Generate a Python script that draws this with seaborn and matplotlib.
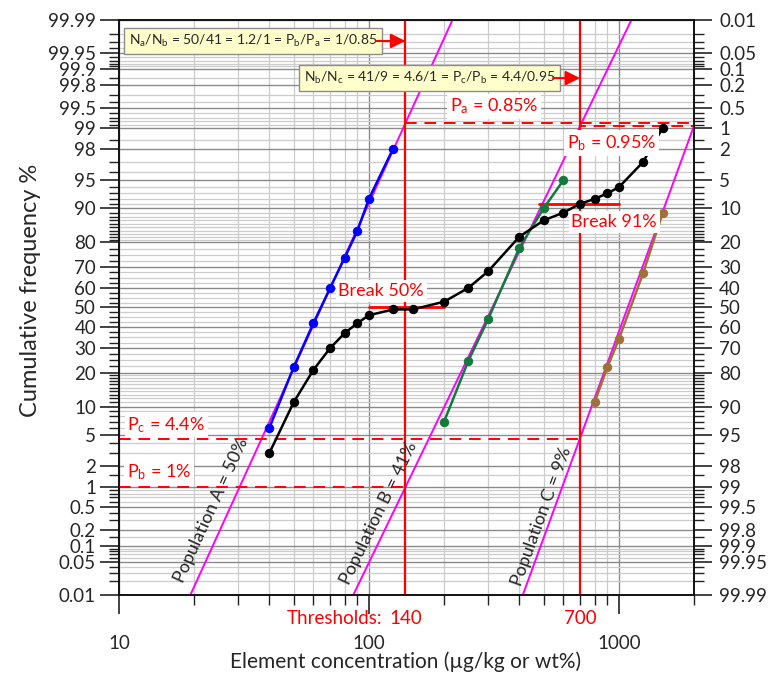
import math
import numpy as np
import pandas as pd
import matplotlib
matplotlib.use("Agg")
import matplotlib.pyplot as plt
import seaborn as sns

# ---------------- data ----------------
mixed_x = [40, 50, 60, 70, 80, 90, 100, 125, 150, 200, 250, 300, 400, 500, 600,
           700, 800, 900, 1000, 1250, 1500]
mixed_p = [3, 11, 21, 30, 37, 42, 46, 49, 49, 53, 60, 68, 82, 87, 89,
           91, 92, 93, 94, 97, 99]
popA_x = [40, 50, 60, 70, 80, 90, 100, 125]
popA_p = [6, 22, 42, 60, 74, 84, 92, 98]
popB_x = [200, 250, 300, 400, 500, 600]
popB_p = [7, 24.5, 44, 78, 90, 95]
popC_x = [800, 900, 1000, 1250, 1500]
popC_p = [11, 22, 34, 67, 89]
fitA_x, fitA_p = [19.3, 216], [0.01, 99.99]
fitB_x, fitB_p = [86.6, 1123], [0.01, 99.99]
fitC_x, fitC_p = [413, 2000], [0.01, 99.06]
thresholds = [140, 700]
breaks_x = [[100, 200], [480, 1000]]
breaks_p = [50, 91]
Pa_pct, Pb_pct, Pc_pct, Pb1_pct = 0.85, 0.95, 4.4, 1.0
y_major = [0.01, 0.05, 0.1, 0.2, 0.5, 1, 2, 5, 10, 20, 30, 40, 50, 60, 70, 80,
           90, 95, 98, 99, 99.5, 99.8, 99.9, 99.95, 99.99]
y_minor_low = [0.02, 0.03, 0.04, 0.06, 0.07, 0.08, 0.09, 0.15, 0.3, 0.4, 0.6, 0.7,
               0.8, 0.9, 1.5, 3, 4, 6, 7, 8, 9, 11, 12, 13, 14, 15, 16, 17, 18, 19,
               22.5, 25, 27.5, 32.5, 35, 37.5, 42.5, 45, 47.5]
x_major = [10, 100, 1000]
x_minor = [20, 30, 40, 50, 60, 70, 80, 90, 200, 300, 400, 500, 600, 700, 800, 900, 2000]

# ---------------- probability scale helpers ----------------
_a = [-3.969683028665376e+01, 2.209460984245205e+02, -2.759285104469687e+02,
      1.383577518672690e+02, -3.066479806614716e+01, 2.506628277459239e+00]
_b = [-5.447609879822406e+01, 1.615858368580409e+02, -1.556989798598866e+02,
      6.680131188771972e+01, -1.328068155288572e+01]
_c = [-7.784894002430293e-03, -3.223964580411365e-01, -2.400758277161838e+00,
      -2.549671010382184e+00, 4.374664141464968e+00, 2.938163982698783e+00]
_d = [7.784695709041462e-03, 3.224671290700398e-01, 2.445134137142996e+00,
      3.754408661907416e+00]


def _ppf(q):
    q = np.clip(np.asarray(q, dtype=float), 1e-12, 1 - 1e-12)
    out = np.empty_like(q)
    plow = 0.02425
    lo = q < plow
    hi = q > 1 - plow
    mid = ~(lo | hi)
    if np.any(lo):
        t = np.sqrt(-2 * np.log(q[lo]))
        out[lo] = (((((_c[0]*t+_c[1])*t+_c[2])*t+_c[3])*t+_c[4])*t+_c[5]) / \
                  ((((_d[0]*t+_d[1])*t+_d[2])*t+_d[3])*t+1)
    if np.any(hi):
        t = np.sqrt(-2 * np.log(1 - q[hi]))
        out[hi] = -(((((_c[0]*t+_c[1])*t+_c[2])*t+_c[3])*t+_c[4])*t+_c[5]) / \
                   ((((_d[0]*t+_d[1])*t+_d[2])*t+_d[3])*t+1)
    if np.any(mid):
        r = q[mid] - 0.5
        s = r * r
        out[mid] = (((((_a[0]*s+_a[1])*s+_a[2])*s+_a[3])*s+_a[4])*s+_a[5])*r / \
                   (((((_b[0]*s+_b[1])*s+_b[2])*s+_b[3])*s+_b[4])*s+1)
    return out


_erf = np.vectorize(math.erf, otypes=[float])


def fwd(y):
    return _ppf(np.asarray(y, dtype=float) / 100.0)


def inv(z):
    return 50.0 * (1.0 + _erf(np.asarray(z, dtype=float) / math.sqrt(2)))


def fmt(v):
    return f"{v:g}"


# ---------------- style ----------------
sns.set_style("ticks")
plt.rcParams["font.family"] = ["Lato", "DejaVu Sans"]
plt.rcParams["mathtext.fontset"] = "custom"
plt.rcParams["mathtext.rm"] = "Lato"
plt.rcParams["mathtext.it"] = "Lato:italic"
plt.rcParams["mathtext.bf"] = "Lato:bold"

RED = "#ff0000"
MAG = "#ff00ff"

fig = plt.figure(figsize=(7.68, 6.78), dpi=100)
ax = fig.add_axes([119/768, 1-595/678, 575/768, 575/678])

# population fit lines (magenta)
for fx, fp in [(fitA_x, fitA_p), (fitB_x, fitB_p), (fitC_x, fitC_p)]:
    sns.lineplot(x=fx, y=fp, ax=ax, color=MAG, lw=1.4, zorder=3)

# data series
series = [(popA_x, popA_p, "#0000ff"), (popB_x, popB_p, "#127a3c"),
          (popC_x, popC_p, "#a0703a"), (mixed_x, mixed_p, "#000000")]
for sx, sp, col in series:
    sns.lineplot(x=sx, y=sp, ax=ax, color=col, lw=1.8, marker="o", markersize=6,
                 markeredgecolor=col, markerfacecolor=col, zorder=5)

ax.set_xscale("log")
ax.set_yscale("function", functions=(fwd, inv))
ax.set_xlim(10, 2000)
ax.set_ylim(0.01, 99.99)

# thresholds & reference lines
for t in thresholds:
    ax.axvline(t, color=RED, lw=1.6, zorder=4)
ax.plot([thresholds[0], 2000], [100 - Pa_pct] * 2, color=RED, lw=1.4, ls=(0, (6, 4)), zorder=4)
ax.plot([thresholds[1], 2000], [100 - Pb_pct] * 2, color=RED, lw=1.4, ls=(3, (6, 4)), zorder=4)
ax.plot([10, thresholds[1]], [Pc_pct] * 2, color=RED, lw=1.4, ls=(0, (6, 4)), zorder=4)
ax.plot([10, thresholds[0]], [Pb1_pct] * 2, color=RED, lw=1.4, ls=(0, (6, 4)), zorder=4)
for bx, bp in zip(breaks_x, breaks_p):
    ax.plot(bx, [bp, bp], color=RED, lw=2, zorder=4)

# ticks & grid
ax.set_yticks(y_major)
ax.set_yticklabels([fmt(v) for v in y_major])
y_minor = y_minor_low + [100 - v for v in y_minor_low]
ax.set_yticks(sorted(y_minor), minor=True)
ax.set_yticklabels([], minor=True)
ax.set_xticks(x_major)
ax.set_xticklabels([fmt(v) for v in x_major])
ax.set_xticks(x_minor, minor=True)
ax.set_xticklabels([], minor=True)
ax.tick_params(axis="both", which="major", direction="out", length=13.5, width=1.2,
               labelsize=13.5, color="#222222")
ax.tick_params(axis="both", which="minor", direction="out", length=7.5, width=1.0,
               color="#222222")
ax.tick_params(axis="x", which="major", pad=15)
ax.tick_params(axis="y", which="major", pad=3)
ax.grid(which="major", color="#8a8a8a", lw=1.0)
ax.grid(which="minor", color="#cccccc", lw=0.9)
ax.set_axisbelow(True)
for s in ax.spines.values():
    s.set_color("#111111")
    s.set_linewidth(1.2)

# right axis (complement percentages)
ax2 = ax.twinx()
ax2.set_yscale("function", functions=(fwd, inv))
ax2.set_ylim(0.01, 99.99)
ax2.set_yticks([100 - v for v in y_major])
ax2.set_yticklabels([fmt(v) for v in y_major])
ax2.set_yticks(sorted(100 - v for v in y_minor), minor=True)
ax2.set_yticklabels([], minor=True)
ax2.tick_params(axis="y", which="major", direction="out", length=13, width=1.2,
                labelsize=13.5, pad=5, color="#222222")
ax2.tick_params(axis="y", which="minor", direction="out", length=7, width=1.0,
                color="#222222")
for s in ax2.spines.values():
    s.set_linewidth(1.2)
    s.set_color("#111111")

# axis labels
ax.set_xlabel("Element concentration (\u00b5g/kg or wt%)", fontsize=15)
ax.set_ylabel("Cumulative frequency %", fontsize=17)
ax.xaxis.set_label_coords(0.499, -0.098)
ax.yaxis.set_label_coords(-0.135, 0.53)

# threshold labels
ax.text(0.4585, -0.04, "Thresholds:", color=RED, fontsize=13.5,
        ha="right", va="center", transform=ax.transAxes)
for t in thresholds:
    ax.text(t, -0.04, fmt(t), color=RED, fontsize=13.5, ha="center", va="center",
            transform=ax.get_xaxis_transform())

# ratio boxes with arrows
box = dict(boxstyle="square,pad=0.35", fc="#ffffcc", ec="#8c8c8c", lw=1)
ax.text(0.017, 0.9635,
        r"N$_\mathrm{a}$/N$_\mathrm{b}$ = 50/41 = 1.2/1 = P$_\mathrm{b}$/P$_\mathrm{a}$ = 1/0.85",
        fontsize=10, ha="left", va="center", bbox=box, transform=ax.transAxes, zorder=8)
ax.text(0.321, 0.899,
        r"N$_\mathrm{b}$/N$_\mathrm{c}$ = 41/9 = 4.6/1 = P$_\mathrm{c}$/P$_\mathrm{b}$ = 4.4/0.95",
        fontsize=10, ha="left", va="center", bbox=box, transform=ax.transAxes, zorder=8)
arrow = dict(arrowstyle="-|>", color=RED, lw=1.5, mutation_scale=22,
             shrinkA=0, shrinkB=0)
ax.annotate("", xy=(thresholds[0], 0.9635), xytext=(0.447, 0.9635),
            xycoords=ax.get_xaxis_transform(), textcoords="axes fraction",
            arrowprops=arrow, zorder=8)
ax.annotate("", xy=(thresholds[1], 0.899), xytext=(0.755, 0.899),
            xycoords=ax.get_xaxis_transform(), textcoords="axes fraction",
            arrowprops=arrow, zorder=8)

# red labels
wbox = dict(boxstyle="square,pad=0.15", fc="white", ec="none")
labels = [
    (0.652, 0.850, r"P$_\mathrm{a}$ = 0.85%"),
    (0.856, 0.786, r"P$_\mathrm{b}$ = 0.95%"),
    (0.082, 0.296, r"P$_\mathrm{c}$ = 4.4%"),
    (0.070, 0.214, r"P$_\mathrm{b}$ = 1%"),
    (0.456, 0.529, "Break 50%"),
    (0.861, 0.649, "Break 91%"),
]
for lx, ly, lt in labels:
    ax.text(lx, ly, lt, color=RED, fontsize=13, ha="center", va="center",
            bbox=wbox, transform=ax.transAxes, zorder=7)

# population labels rotated along fit lines
fig.canvas.draw()
pop_labels = [("Population A = 50%", fitA_x, fitA_p, 23.5, 0.43),
              ("Population B = 41%", fitB_x, fitB_p, 110, 0.39),
              ("Population C = 9%", fitC_x, fitC_p, 492, 0.35)]
for txt, fx, fp, tx, tp in pop_labels:
    p0 = ax.transData.transform((fx[0], fp[0]))
    p1 = ax.transData.transform((fx[1], fp[1]))
    ang = math.degrees(math.atan2(p1[1] - p0[1], p1[0] - p0[0]))
    ax.text(tx, tp, txt, fontsize=13, rotation=ang, rotation_mode="anchor",
            ha="center", va="center", zorder=6)

fig.savefig("out.png", dpi=100)
